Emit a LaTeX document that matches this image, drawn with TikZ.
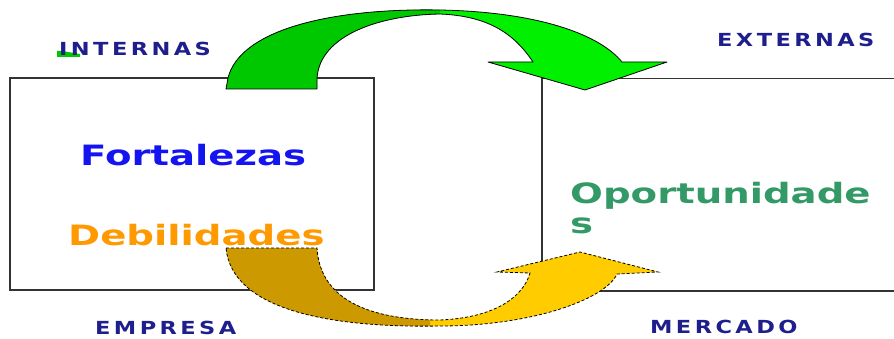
\documentclass[tikz,border=0pt]{standalone}
\usepackage{fontspec}
\newfontfamily\lblfont[FakeStretch=1.25, LetterSpace=19]{DejaVu Sans Bold}
\newfontfamily\wordfont[FakeStretch=1.38]{DejaVu Sans Bold}
\definecolor{LblNavy}{RGB}{30,30,140}
\definecolor{FortBlue}{RGB}{20,20,240}
\definecolor{DebOrange}{RGB}{255,153,0}
\definecolor{OpoGreen}{RGB}{51,153,102}
\definecolor{ArrDkGreen}{RGB}{0,200,0}
\definecolor{ArrLtGreen}{RGB}{0,240,0}
\definecolor{ArrOlive}{RGB}{204,153,0}
\definecolor{ArrGold}{RGB}{255,204,0}
\usetikzlibrary{positioning}

% outlines of the two curved arrows (pixel units, y downwards)
\newcommand{\GreenArrowPath}{(226,89) -- (228,78) .. controls (240,30) and (330,8) .. (440,10)
    .. controls (540,12) and (600,35) .. (622,62) -- (667,62) -- (585,90) -- (488,62) -- (533,62)
    .. controls (515,35) and (490,16) .. (440,14) .. controls (380,15) and (320,35) .. (317,78)
    -- (317,89) -- cycle}
\newcommand{\GoldArrowPath}{(226,248) -- (317,248) .. controls (320,300) and (370,320) .. (440,320)
    .. controls (490,318) and (522,300) .. (530,273) -- (497,272) -- (580,252) -- (658,272) -- (617,274)
    .. controls (605,300) and (530,326) .. (440,326) .. controls (330,328) and (232,310) .. (226,248)
    -- cycle}

\tikzset{
    boxstyle/.style={rectangle, draw=black!80, line width=1.5pt, inner sep=0pt},
    lbl/.style={inner sep=0pt, text=LblNavy, font=\lblfont\fontsize{18}{20}\selectfont},
    bigword/.style={inner sep=0pt, font=\wordfont\fontsize{28}{30}\selectfont},
}

\begin{document}
\begin{tikzpicture}[x=1pt, y=-1pt]
    \useasboundingbox (0,0) rectangle (894,339);
    \clip (0,0) rectangle (894,339);

    % the two boxes
    \node[boxstyle, minimum width=364pt, minimum height=212pt] (empresabox) at (192,184) {};
    \node[boxstyle, minimum width=370pt, minimum height=212pt, anchor=north west] (mercadobox) at (541,78) {};

    % green arrow, over the top
    \begin{scope}
        \fill[ArrLtGreen] \GreenArrowPath;
        \clip (0,0) rectangle (440,339);
        \fill[ArrDkGreen] \GreenArrowPath;
    \end{scope}
    \draw[black, line width=0.8pt, line join=round] \GreenArrowPath;

    % gold arrow, underneath
    \begin{scope}
        \fill[ArrGold] \GoldArrowPath;
        \clip (0,0) rectangle (430,339);
        \fill[ArrOlive] \GoldArrowPath;
    \end{scope}
    \draw[black, line width=0.8pt, dash pattern=on 3pt off 2pt] \GoldArrowPath;

    % small green stroke at the label
    \fill[ArrDkGreen] (57,51) -- (62,51) -- (80,54) -- (80,57) -- (57,57) -- cycle;

    % labels
    \node[lbl, anchor=west] (internas) at (59,49) {INTERNAS};
    \node[lbl, anchor=west] (externas) at (717,40) {EXTERNAS};
    \node[lbl, anchor=west] (empresa) at (95,328) {EMPRESA};
    \node[lbl, anchor=west] (mercado) at (650,327) {MERCADO};

    \node[bigword, text=FortBlue, anchor=base west] (fortalezas) at (80,166) {Fortalezas};
    \node[bigword, text=DebOrange, anchor=base west] (debilidades) at (68,245) {Debilidades};
    \node[bigword, text=OpoGreen, anchor=north west, align=left] (oportunidades) at (570,182) {Oportunidade\\s};
\end{tikzpicture}
\end{document}
